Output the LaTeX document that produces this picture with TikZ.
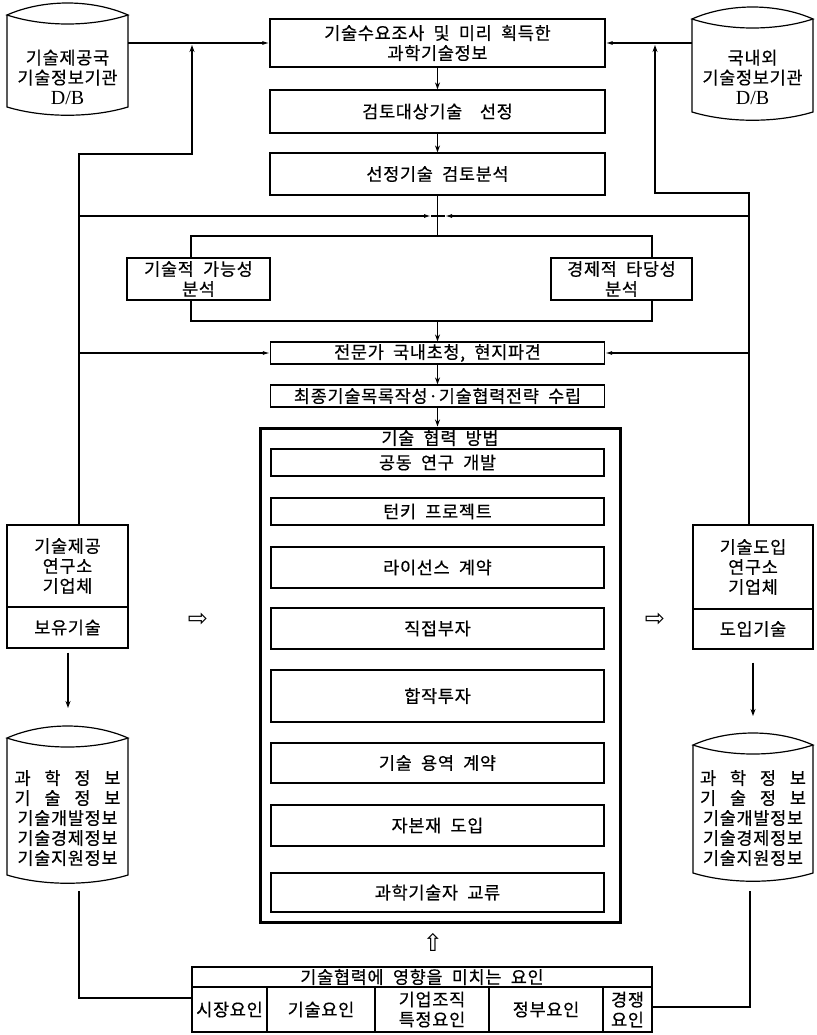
\documentclass[tikz,border=0pt]{standalone}
\usepackage{fontspec}
\setmainfont{Noto Sans CJK KR}[LetterSpace=4,WordSpace=2,FakeBold=0.5]
\newfontfamily\latfont{Liberation Serif}
\newfontfamily\symfont{DejaVu Sans}
\usetikzlibrary{arrows.meta,calc}
\newcommand\kbox[6]{\node[box, minimum width=#4, minimum height=#5] (#1) at (#2,#3) {#6};}
\newcommand\kcyl[5]{%
  \node[minimum width={#3-#2}, minimum height={#5-#4}] (#1) at ({(#2+#3)/2},{(#4+#5)/2}) {};
  \draw[ln] (#2,#4) .. controls ({#2+0.3*(#3-#2)},{#4-16}) and ({#3-0.3*(#3-#2)},{#4-16}) .. (#3,#4)
     .. controls ({#3-0.3*(#3-#2)},{#4+12}) and ({#2+0.3*(#3-#2)},{#4+12}) .. (#2,#4) -- cycle;
  \draw[ln] (#2,#4) -- (#2,#5) .. controls ({#2+0.3*(#3-#2)},{#5+11}) and ({#3-0.3*(#3-#2)},{#5+11}) .. (#3,#5) -- (#3,#4);
}
\begin{document}
\begin{tikzpicture}[x=1pt,y=-1pt,
  every node/.style={font=\fontsize{17.5}{20}\selectfont, inner sep=0pt, align=center},
  box/.style={draw, line width=1.2pt, rectangle},
  ln/.style={line width=1.2pt},
  arr/.style={line width=1.2pt, -{Stealth[length=7pt,width=5pt]}},
  arrf/.style={line width=1.2pt, -{Latex[length=7pt,width=4pt]}},
  hollow/.style={font=\symfont\fontsize{24}{24}\selectfont}
]
\useasboundingbox (0,0) rectangle (816,1035);

% ---- top cylinders
\kcyl{cylTL}{7}{128}{15}{107}
\node (cylTLt) at (67.5,77) {기술제공국\\기술정보기관\\{\latfont\fontsize{20}{20}\selectfont D/B}};
\kcyl{cylTR}{692}{813}{19}{112}
\node (cylTRt) at (752.5,77) {국내외\\기술정보기관\\{\latfont\fontsize{20}{20}\selectfont D/B}};

% ---- center column
\kbox{b1}{437.5}{43}{335}{48}{\fontsize{17.5}{22}\selectfont 기술수요조사 및 미리 획득한\\과학기술정보}
\kbox{b2}{437.5}{111.5}{335}{43}{검토대상기술\hspace{1em}선정}
\kbox{b3}{437.5}{174}{335}{42}{선정기술 검토분석}
\kbox{techF}{198.5}{279}{143}{42}{기술적 가능성\\분석}
\kbox{econF}{621.5}{279}{141}{42}{경제적 타당성\\분석}
\kbox{b7}{437.5}{353}{334}{22}{전문가 국내초청, 현지파견}
\kbox{b8}{437.5}{396}{334}{22}{최종기술목록작성·기술협력전략 수립}

% ---- big box
\node[draw, line width=3pt, minimum width=360, minimum height=494] (big) at (440,675) {};
\node (bigt) at (440,438) {기술 협력 방법};
\kbox{i1}{437.5}{462.5}{333}{27}{공동 연구 개발}
\kbox{i2}{437.5}{511.5}{333}{27}{턴키 프로젝트}
\kbox{i3}{437.5}{567.5}{333}{41}{라이선스 계약}
\kbox{i4}{437.5}{628.5}{333}{41}{직접부자}
\kbox{i5}{437.5}{696}{333}{52}{합작투자}
\kbox{i6}{437.5}{763}{333}{40}{기술 용역 계약}
\kbox{i7}{437.5}{825.5}{333}{41}{자본재 도입}
\kbox{i8}{437.5}{892.5}{333}{39}{과학기술자 교류}

% ---- side boxes
\kbox{provL}{67.5}{566}{121}{82}{\fontsize{17.5}{17.5}\selectfont 기술제공\\연구소\\기업체}
\kbox{provL2}{67.5}{627.5}{121}{41}{보유기술}
\kbox{provR}{753}{567}{120}{84}{\fontsize{17.5}{17.5}\selectfont 기술도입\\연구소\\기업체}
\kbox{provR2}{753}{629}{120}{40}{도입기술}

% ---- bottom cylinders
\kcyl{cylBL}{7}{128}{738}{875}
\node (cylBLt) at (67.5,818) {\makebox[106pt][s]{과 학 정 보}\\\makebox[106pt][s]{기 술 정 보}\\기술개발정보\\기술경제정보\\기술지원정보};
\kcyl{cylBR}{693}{813}{745}{873}
\node (cylBRt) at (753,818) {\makebox[106pt][s]{과 학 정 보}\\\makebox[106pt][s]{기 술 정 보}\\기술개발정보\\기술경제정보\\기술지원정보};

% ---- table
\kbox{hdr}{422}{977}{460}{20}{기술협력에 영향을 미치는 요인}
\kbox{c1}{229.5}{1009.5}{75}{45}{시장요인}
\kbox{c2}{321}{1009.5}{108}{45}{기술요인}
\kbox{c3}{432}{1009.5}{114}{45}{\fontsize{17.5}{22}\selectfont 기업조직\\특정요인}
\kbox{c4}{546}{1009.5}{114}{45}{정부요인}
\kbox{c5}{627.5}{1009.5}{49}{45}{\fontsize{17.5}{22}\selectfont 경쟁\\요인}

% ---- hollow arrows
\node[hollow] (haL) at (198,620) {⇨};
\node[hollow] (haR) at (655,620) {⇨};
\node[hollow] (haU) at (433,942) {⇧};

% ---- coordinates
\coordinate (lv) at (79,154);
\coordinate (lu) at (192,154);
\coordinate (rv) at (749,193);
\coordinate (ru) at (655,193);
\coordinate (hl) at (79,216);
\coordinate (hr) at (749,216);
\coordinate (hml) at (431,216);
\coordinate (hmr) at (445,216);
\coordinate (bl) at (191,236);
\coordinate (br) at (652,236);
\coordinate (bl2) at (191,321);
\coordinate (br2) at (652,321);
\coordinate (aL) at (68,708);
\coordinate (aR) at (753,716);
\coordinate (dL) at (79,891);
\coordinate (dL2) at (79,998);
\coordinate (tL) at (192,998);
\coordinate (dR) at (750,891);
\coordinate (dR2) at (750,1007);
\coordinate (tR) at (652,1007);

% ---- connectors top
\draw[arrf] (cylTL.east |- b1.west) -- (b1.west);
\draw[arrf] (cylTR.west |- b1.east) -- (b1.east);
\draw[arr, shorten >=2pt] (provL.north -| lv) -- (lv) -- (lu) -- (lu |- b1.west);
\draw[arr, shorten >=2pt] (provR.north -| rv) -- (rv) -- (ru) -- (ru |- b1.east);
\draw[arr] (b1.south) -- (b2.north);
\draw[arr] (b2.south) -- (b3.north);

% ---- middle
\draw[arrf] (hl) -- (hml);
\draw[arrf] (hr) -- (hmr);
\draw[ln] (hml) -- (hmr);
\draw[ln] (b3.south) -- (b3.south |- bl);
\draw[ln] (techF.north -| bl) -- (bl) -- (br) -- (econF.north -| br);
\draw[ln] (techF.south -| bl2) -- (bl2) -- (br2) -- (econF.south -| br2);
\draw[arr] (b3.south |- bl2) -- (b7.north);
\draw[arrf] (lv |- b7.west) -- (b7.west);
\draw[arrf] (rv |- b7.east) -- (b7.east);
\draw[arr] (b7.south) -- (b8.north);
\draw[arr] (b8.south) -- (b8.south |- big.north);

% ---- sides
\draw[arr] ([yshift=-4pt]provL2.south -| aL) -- (aL);
\draw[arr] ([yshift=-13pt]provR2.south -| aR) -- (aR);
\draw[ln] (dL) -- (dL2) -- (tL);
\draw[ln] (dR) -- (dR2) -- (tR);
\end{tikzpicture}
\end{document}
